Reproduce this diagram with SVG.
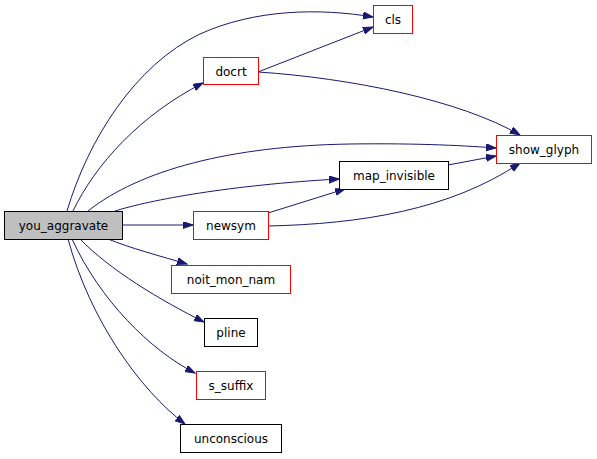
<svg xmlns="http://www.w3.org/2000/svg" width="597" height="459" viewBox="0 0 597 459">
<style>
.n rect{fill:#fff;stroke:#000;stroke-width:1}
.n.r rect{stroke:#ff0000}
.n.g rect{fill:#bfbfbf}
.n text{font-family:"DejaVu Sans",sans-serif;font-size:12px;text-anchor:middle;fill:#000}
#edges path{fill:none;stroke:#191970;stroke-width:1;marker-end:url(#ah)}
</style>
<defs>
<marker id="ah" markerUnits="userSpaceOnUse" markerWidth="11" markerHeight="8" refX="10" refY="3.5" orient="auto">
<path d="M0,0 L10,3.5 L0,7 z" fill="#191970" stroke="#191970"/>
</marker>
</defs>
<rect width="597" height="459" fill="#fff"/>
<g id="edges">
<path d="M67,211 C88,140 135,65 200,34 C255,9 320,8 373,17"/>
<path d="M73,211 C95,165 140,115 203,83"/>
<path d="M258,72 L373,27"/>
<path d="M258,72 C350,78 460,100 520,135"/>
<path d="M88,211 C140,170 230,146 350,144 C420,143 470,146 496,148"/>
<path d="M115,211 C150,200 230,185 339,179"/>
<path d="M122,225 L193,225"/>
<path d="M268,213 L345,189"/>
<path d="M268,226 C360,224 450,210 520,163"/>
<path d="M448,165 L496,156"/>
<path d="M108,239 C130,248 160,256 187,264"/>
<path d="M80,239 C110,270 160,300 204,322"/>
<path d="M72,239 C100,300 150,350 195,373"/>
<path d="M68,239 C90,320 140,390 185,424"/>
</g>
<g id="you_aggravate" class="n g"><rect x="4.5" y="211.5" width="118" height="28"/><text x="63.5" y="230">you_aggravate</text></g>
<g id="cls" class="n r"><rect x="373.5" y="5.5" width="39" height="28"/><text x="393" y="24">cls</text></g>
<g id="docrt" class="n r"><rect x="203.5" y="57.5" width="55" height="27"/><text x="231" y="75.5">docrt</text></g>
<g id="show_glyph" class="n r"><rect x="496.5" y="135.5" width="95" height="28"/><text x="544" y="154">show_glyph</text></g>
<g id="map_invisible" class="n"><rect x="339.5" y="161.5" width="109" height="28"/><text x="394" y="180">map_invisible</text></g>
<g id="newsym" class="n r"><rect x="193.5" y="211.5" width="75" height="28"/><text x="231" y="230">newsym</text></g>
<g id="noit_mon_nam" class="n r"><rect x="171.5" y="265.5" width="119" height="28"/><text x="231" y="284">noit_mon_nam</text></g>
<g id="pline" class="n"><rect x="204.5" y="318.5" width="53" height="28"/><text x="231" y="337">pline</text></g>
<g id="s_suffix" class="n r"><rect x="196.5" y="371.5" width="69" height="28"/><text x="231" y="390">s_suffix</text></g>
<g id="unconscious" class="n"><rect x="180.5" y="424.5" width="101" height="28"/><text x="231" y="443">unconscious</text></g>
</svg>
